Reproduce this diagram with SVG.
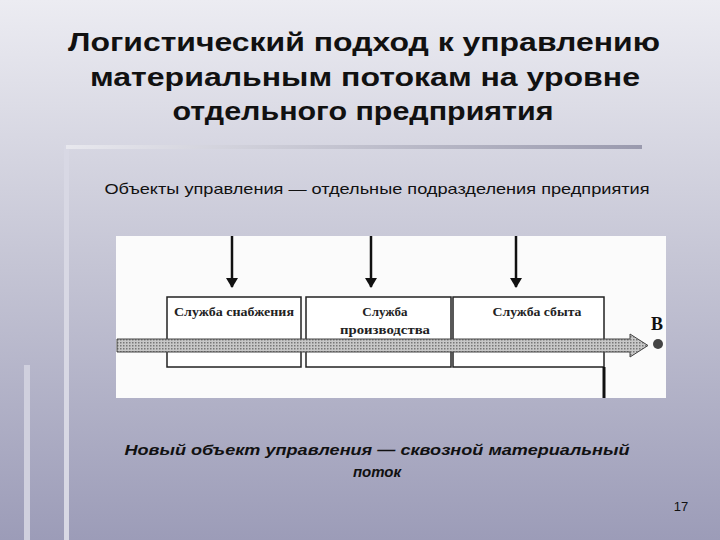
<svg xmlns="http://www.w3.org/2000/svg" width="720" height="540" viewBox="0 0 720 540">
<defs>
<linearGradient id="bg" x1="0" y1="0" x2="0" y2="1"><stop offset="0" stop-color="#ececf2"/><stop offset="0.5" stop-color="#c4c4d4"/><stop offset="1" stop-color="#9c9cb8"/></linearGradient>
<linearGradient id="bar" x1="0" y1="0" x2="1" y2="0"><stop offset="0" stop-color="#e8e8ee"/><stop offset="1" stop-color="#9a9aae"/></linearGradient>
<pattern id="dots" width="3" height="3" patternUnits="userSpaceOnUse"><rect width="3" height="3" fill="#c8c8c8"/><rect width="1.5" height="1.5" fill="#777"/></pattern>
<marker id="ah" markerWidth="10" markerHeight="12" refX="9" refY="6" orient="auto" markerUnits="userSpaceOnUse"><path d="M0,0 L10,6 L0,12 Z" fill="#111"/></marker>
</defs>
<style>
.t{font-family:"Liberation Sans",Arial,sans-serif}
.box{fill:#fff;stroke:#222;stroke-width:1.5}
.lbl{font-family:"Liberation Serif","Times New Roman",serif;font-size:13px;font-weight:bold;fill:#222}
.ar{stroke:#111;stroke-width:2.5;marker-end:url(#ah)}
</style>
<rect width="720" height="540" fill="url(#bg)"/>
<rect x="64" y="145" width="5" height="395" fill="#d8d8e4"/>
<rect x="66" y="145" width="576" height="4" fill="url(#bar)"/>
<rect x="24" y="365" width="6" height="175" fill="#d0d0de"/>
<g class="t" font-weight="bold" font-size="26" fill="#111" text-anchor="middle">
<text x="364" y="51" textLength="592" lengthAdjust="spacingAndGlyphs">Логистический подход к управлению</text>
<text x="365" y="86" textLength="550" lengthAdjust="spacingAndGlyphs">материальным потокам на уровне</text>
<text x="363" y="120" textLength="381" lengthAdjust="spacingAndGlyphs">отдельного предприятия</text>
</g>
<text class="t" x="377" y="194" font-size="15" fill="#111" text-anchor="middle" textLength="545" lengthAdjust="spacingAndGlyphs">Объекты управления — отдельные подразделения предприятия</text>
<rect x="116" y="236" width="550" height="162" fill="#fbfbfb"/>
<g id="n1"><rect class="box" x="167" y="297" width="134" height="70"/><text class="lbl" x="234" y="316" text-anchor="middle" textLength="120" lengthAdjust="spacingAndGlyphs">Служба снабжения</text></g>
<g id="n2"><rect class="box" x="306" y="297" width="145" height="70"/><text class="lbl" x="385" y="316" text-anchor="middle">Служба</text><text class="lbl" x="385" y="334" text-anchor="middle" textLength="90" lengthAdjust="spacingAndGlyphs">производства</text></g>
<g id="n3"><rect class="box" x="453" y="297" width="151" height="70"/><text class="lbl" x="537" y="316" text-anchor="middle" textLength="89" lengthAdjust="spacingAndGlyphs">Служба сбыта</text></g>
<g id="connectors">
<line class="ar" x1="232" y1="236" x2="232" y2="287"/>
<line class="ar" x1="371" y1="236" x2="371" y2="287"/>
<line class="ar" x1="516" y1="236" x2="516" y2="287"/>
<path d="M117,339 H630 V334 L648,345.5 L630,357 V352 H117 Z" fill="url(#dots)" stroke="#444" stroke-width="1"/>
<line x1="604" y1="367" x2="604" y2="398" stroke="#111" stroke-width="3"/>
</g>
<text x="651" y="330" font-family="Liberation Serif,serif" font-weight="bold" font-size="18" fill="#111">В</text>
<circle cx="658" cy="344" r="5" fill="#444"/>
<g class="t" font-style="italic" font-weight="bold" font-size="15" fill="#111" text-anchor="middle">
<text x="377" y="455" textLength="505" lengthAdjust="spacingAndGlyphs">Новый объект управления — сквозной материальный</text>
<text x="377" y="477">поток</text>
</g>
<text class="t" x="681" y="511" font-size="13" fill="#111" text-anchor="middle">17</text>
</svg>
